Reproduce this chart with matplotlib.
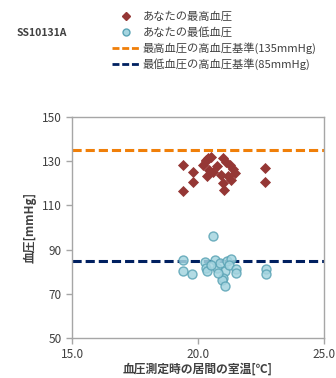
import matplotlib
matplotlib.use('Agg')
import matplotlib.pyplot as plt
from matplotlib.lines import Line2D

plt.rcParams['font.family'] = ['Noto Sans CJK JP', 'DejaVu Sans']

# systolic readings (room temp, mmHg)
sys_temp = [19.4, 19.8, 19.8, 19.4, 22.65, 22.65,
            20.3, 20.5, 20.2, 20.45, 20.35, 20.3, 20.75, 21.0, 21.1, 21.25,
            21.45, 21.2, 20.9, 21.0, 21.05, 21.3, 20.6, 21.4, 20.4]
sys_bp = [128.4, 125.1, 120.4, 116.4, 126.9, 120.4,
          130.6, 132.1, 128.4, 126.1, 123.1, 130.0, 127.6, 131.4, 129.5, 128.4,
          124.6, 123.1, 123.9, 120.1, 117.1, 121.6, 125.0, 126.5, 131.5]

# diastolic readings
dia_temp = [20.58, 19.39, 19.39, 19.78, 20.28, 20.32, 20.37, 20.67, 20.74, 20.87,
            21.07, 21.0, 20.97, 21.08, 21.14, 21.3, 21.22, 21.5, 21.5, 22.69,
            22.69, 20.5, 20.8]
dia_bp = [96.2, 85.2, 80.3, 79.1, 84.3, 81.8, 80.3, 85.4, 81.8, 84.1,
          80.3, 77.3, 76.2, 73.6, 84.9, 85.6, 83.0, 81.3, 79.6, 81.2,
          78.9, 83.0, 79.5]

sys_limit = 135
dia_limit = 85
y_ticks = [50, 70, 90, 110, 130, 150]
x_ticks = [15.0, 20.0, 25.0]

red = '#953735'
orange = '#f07f09'
navy = '#002060'
grey = '#a6a6a6'
txt = '#404040'

fig = plt.figure(figsize=(3.36, 3.78), dpi=100)
ax = fig.add_axes([0.2143, 0.1058, 0.75, 0.5847])

ax.axhline(sys_limit, color=orange, lw=2.2, ls=(0, (3, 1.3)), zorder=1)
ax.axhline(dia_limit, color=navy, lw=2.2, ls=(0, (3, 1.3)), zorder=1)
ax.scatter(sys_temp, sys_bp, marker='D', s=32, color=red, zorder=3, linewidths=0)
ax.scatter(dia_temp, dia_bp, marker='o', s=42, facecolor='#a5d5e0',
           edgecolor='#5aa3b5', linewidths=1.0, alpha=0.85, zorder=3)

ax.set_xlim(15, 25)
ax.set_ylim(50, 150)
ax.set_xticks(x_ticks)
ax.set_xticklabels(['%.1f' % t for t in x_ticks])
ax.set_yticks(y_ticks)
for s in ax.spines.values():
    s.set_color(grey)
    s.set_linewidth(1.0)
ax.tick_params(colors=grey, labelcolor=txt, labelsize=8.5, length=4, width=1)
ax.set_xlabel('血圧測定時の居間の室温[℃]', fontsize=8.5, fontweight='bold',
              color=txt, labelpad=1)
ax.set_ylabel('血圧[mmHg]', fontsize=8.5, fontweight='bold', color=txt, labelpad=4)

fig.text(0.05, 0.913, 'SS10131A', fontsize=7.5, fontweight='bold', color=txt,
         va='center')

handles = [
    Line2D([], [], marker='D', color=red, ls='none', markersize=4),
    Line2D([], [], marker='o', markerfacecolor='#a5d5e0', markeredgecolor='#5aa3b5',
           ls='none', markersize=5),
    Line2D([], [], color=orange, lw=2, ls=(0, (2.5, 1))),
    Line2D([], [], color=navy, lw=2, ls=(0, (2.5, 1))),
]
labels = ['あなたの最高血圧', 'あなたの最低血圧',
          '最高血圧の高血圧基準(135mmHg)', '最低血圧の高血圧基準(85mmHg)']
fig.legend(handles, labels, loc='upper left', bbox_to_anchor=(0.31, 0.99),
           frameon=False, fontsize=8.1, labelcolor=txt, handlelength=2.4,
           handletextpad=0.3, labelspacing=0.4, borderpad=0.2)

fig.savefig('out.png', dpi=100)
